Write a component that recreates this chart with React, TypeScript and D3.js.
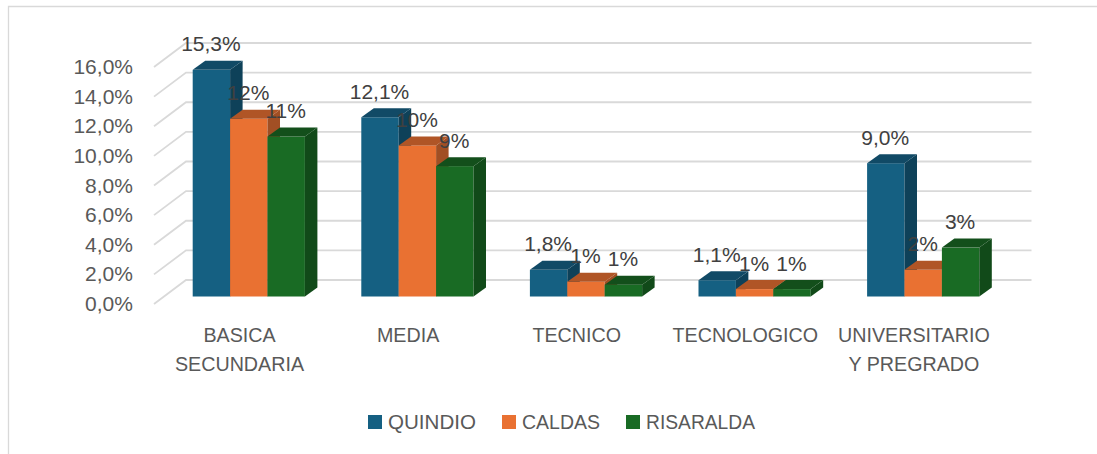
import React from "react";
import * as d3 from "d3";

const categories = [["BASICA", "SECUNDARIA"], ["MEDIA"], ["TECNICO"], ["TECNOLOGICO"], ["UNIVERSITARIO", "Y PREGRADO"]];
const seriesNames = ["QUINDIO", "CALDAS", "RISARALDA"];
const quindio = [15.3, 12.1, 1.8, 1.1, 9.0];
const caldas = [12.0, 10.2, 1.0, 0.5, 1.8];
const risaralda = [10.8, 8.8, 0.8, 0.5, 3.3];
const quindioLabels = ["15,3%", "12,1%", "1,8%", "1,1%", "9,0%"];
const caldasLabels = ["12%", "10%", "1%", "1%", "2%"];
const risaraldaLabels = ["11%", "9%", "1%", "1%", "3%"];
const yTicks = [0, 2, 4, 6, 8, 10, 12, 14, 16];

const colors = [
  { front: "#156082", side: "#0e4159", top: "#114a66" },
  { front: "#e97132", side: "#a14f24", top: "#b05526" },
  { front: "#196b24", side: "#114a19", top: "#134f1b" },
];
const values = [quindio, caldas, risaralda];
const labels = [quindioLabels, caldasLabels, risaraldaLabels];

const FONT = "'Liberation Sans', Arial, sans-serif";
const y = d3.scaleLinear().domain([0, 16]).range([304, 67]);
const x = d3.scaleBand<number>().domain(d3.range(categories.length)).range([154, 997]);
const wallDx = 32;
const wallDy = -24;
const right = 1031.5;
const barW = 37.4;
const barDx = 12.5;
const barDy = -9;
const barOffX = 38.7;
const barBase = 296.5;
const legendX = [368, 502, 626];
const legendW = [88, 78, 109];

function barTop(v: number) {
  return barBase - (y(0) - y(v));
}

export default function App() {
  return (
    <svg width={1097} height={454} style={{ position: "absolute", left: 0, top: 0, background: "#fff" }} fontFamily={FONT}>
      <path d="M1097 6.5H8.5V454" fill="none" stroke="#d9d9d9" strokeWidth={1.3} />
      {yTicks.map((t) => (
        <g key={t}>
          <path
            d={`M${x(0)} ${y(t)}L${x(0)! + wallDx} ${y(t) + wallDy}H${right}`}
            fill="none"
            stroke="#d9d9d9"
            strokeWidth={1.8}
          />
          <text x={133} y={y(t) + 7} textAnchor="end" fontSize={21} fill="#595959">
            {d3.format(".1f")(t).replace(".", ",")}%
          </text>
        </g>
      ))}
      {categories.map((_, c) =>
        values.map((vals, s) => {
          const x0 = x(c)! + barOffX + s * barW;
          const x1 = x0 + barW;
          const t = barTop(vals[c]);
          return (
            <g key={`${c}-${s}`}>
              <rect x={x0} y={t} width={barW} height={barBase - t} fill={colors[s].front} />
              <path
                d={`M${x1} ${t}L${x1 + barDx} ${t + barDy}V${barBase + barDy}L${x1} ${barBase}Z`}
                fill={colors[s].side}
              />
              <path
                d={`M${x0} ${t}L${x0 + barDx} ${t + barDy}H${x1 + barDx}L${x1} ${t}Z`}
                fill={colors[s].top}
              />
            </g>
          );
        })
      )}
      {categories.map((_, c) =>
        values.map((vals, s) => (
          <text
            key={`l${c}-${s}`}
            x={x(c)! + barOffX + s * barW + barW / 2 - 0.5}
            y={barTop(vals[c]) - 18.5}
            textAnchor="middle"
            fontSize={21}
            fill="#404040"
          >
            {labels[s][c]}
          </text>
        ))
      )}
      {categories.map((lines, c) => (
        <text key={c} textAnchor="middle" fontSize={19.7} fill="#595959">
          {lines.map((line, i) => (
            <tspan key={line} x={x(c)! + x.bandwidth() / 2 + 1.2} y={342 + i * 29}>
              {line}
            </tspan>
          ))}
        </text>
      ))}
      {seriesNames.map((name, s) => (
        <g key={name}>
          <rect x={legendX[s]} y={415} width={14} height={14} fill={colors[s].front} />
          <text
            x={legendX[s] + 20}
            y={428.5}
            fontSize={20}
            fill="#595959"
            textLength={legendW[s]}
            lengthAdjust="spacingAndGlyphs"
          >
            {name}
          </text>
        </g>
      ))}
    </svg>
  );
}
